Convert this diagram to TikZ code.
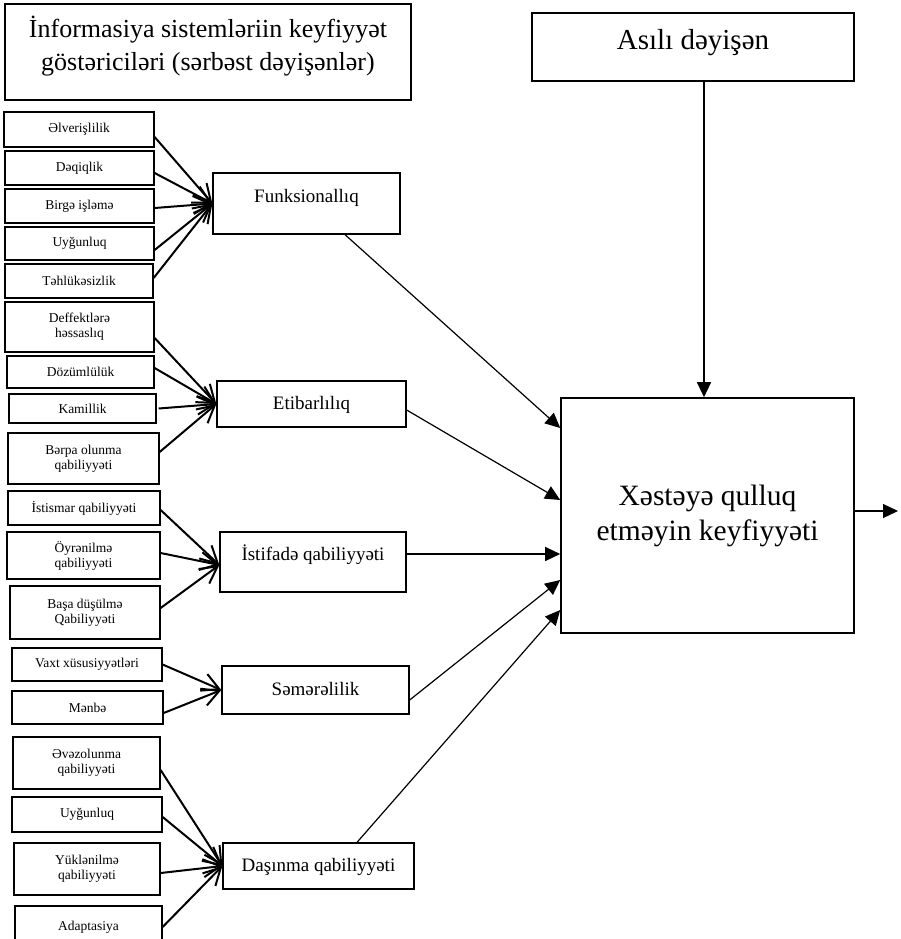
\documentclass[tikz,border=0pt]{standalone}
\usepackage{fontspec}
\setmainfont{Liberation Serif}
\usetikzlibrary{arrows.meta}
\begin{document}
\begin{tikzpicture}[x=1pt,y=-1pt,
  box/.style={draw, line width=1.3pt, inner sep=0pt, align=center},
  smallbox/.style={box, font=\fontsize{13.5}{15}\selectfont},
  midbox/.style={box, font=\fontsize{19}{22}\selectfont, text height=14pt, text depth=4pt},
  feed/.style={line width=2pt, -{Straight Barb[length=17pt,width=18pt,line width=2pt]}},
  mainarrow/.style={line width=1.2pt, -{Triangle[length=15pt,width=14pt]}}]
\useasboundingbox (0,0) rectangle (901,939);
% top boxes
\node[box, line width=1.6pt, minimum width=406, minimum height=96, text depth=17pt, font=\fontsize{26}{33}\selectfont] (T) at (208,52)
  {İnformasiya sistemləriin keyfiyyət\\göstəriciləri (sərbəst dəyişənlər)};
\node[box, line width=1.6pt, minimum width=322, minimum height=68, text depth=15pt, font=\fontsize{29}{33}\selectfont] (A) at (693,47)
  {Asılı dəyişən};
\node[box, line width=1.6pt, minimum width=293, minimum height=235, font=\fontsize{29.5}{35}\selectfont] (B) at (707.5,515.5)
  {Xəstəyə qulluq\\etməyin keyfiyyəti};
% middle boxes
\node[midbox, minimum width=187, minimum height=61, text depth=17pt] (F) at (306.5,203.5) {Funksionallıq};
\node[midbox, minimum width=189, minimum height=46] (E) at (311.5,404) {Etibarlılıq};
\node[midbox, minimum width=186, minimum height=60, text depth=18pt] (I) at (313,562) {İstifadə qabiliyyəti};
\node[midbox, minimum width=187, minimum height=48] (S) at (315.5,690) {Səmərəlilik};
\node[midbox, minimum width=191, minimum height=46] (D) at (318.5,866) {Daşınma qabiliyyəti};
% left boxes
\node[smallbox, minimum width=150, minimum height=35] (a1) at (79,129.5) {Əlverişlilik};
\node[smallbox, minimum width=149, minimum height=34] (a2) at (79.5,168) {Dəqiqlik};
\node[smallbox, minimum width=149, minimum height=34] (a3) at (79.5,206) {Birgə işləmə};
\node[smallbox, minimum width=149, minimum height=33] (a4) at (79.5,243.5) {Uyğunluq};
\node[smallbox, minimum width=148, minimum height=34] (a5) at (79,281) {Təhlükəsizlik};
\node[smallbox, minimum width=149, minimum height=50] (b1) at (79.5,327) {Deffektlərə\\həssaslıq};
\node[smallbox, minimum width=147, minimum height=32] (b2) at (80.5,372) {Dözümlülük};
\node[smallbox, minimum width=147, minimum height=29] (b3) at (82.5,408.5) {Kamillik};
\node[smallbox, minimum width=151, minimum height=51] (b4) at (83.5,458.5) {Bərpa olunma\\qabiliyyəti};
\node[smallbox, minimum width=152, minimum height=34] (c1) at (84,508) {İstismar qabiliyyəti};
\node[smallbox, minimum width=153, minimum height=47] (c2) at (83.5,555.5) {Öyrənilmə\\qabiliyyəti};
\node[smallbox, minimum width=150, minimum height=53] (c3) at (85,612.5) {Başa düşülmə\\Qabiliyyəti};
\node[smallbox, minimum width=150, minimum height=33] (d1) at (87,664.5) {Vaxt xüsusiyyətləri};
\node[smallbox, minimum width=151, minimum height=33] (d2) at (87.5,707.5) {Mənbə};
\node[smallbox, minimum width=147, minimum height=52] (e1) at (86.5,763) {Əvəzolunma\\qabiliyyəti};
\node[smallbox, minimum width=150, minimum height=35] (e2) at (87,814.5) {Uyğunluq};
\node[smallbox, minimum width=146, minimum height=52] (e3) at (87,869) {Yüklənilmə\\qabiliyyəti};
\node[smallbox, minimum width=147, minimum height=42] (e4) at (88.5,927) {Adaptasiya};
% feeders
\draw[feed] ([yshift=-7.5pt]a1.east) -- (F.west);
\draw[feed] ([yshift=-5pt]a2.east) -- (F.west);
\draw[feed] ([yshift=-2pt]a3.east) -- (F.west);
\draw[feed] ([yshift=-6.5pt]a4.east) -- (F.west);
\draw[feed] ([yshift=3pt]a5.east) -- (F.west);
\draw[feed] ([yshift=-11pt]b1.east) -- (E.west);
\draw[feed] ([yshift=4pt]b2.east) -- (E.west);
\draw[feed] ([xshift=2pt]b3.east) -- (E.west);
\draw[feed] ([yshift=6.5pt]b4.east) -- (E.west);
\draw[feed] ([yshift=-2pt]c1.east) -- ([yshift=-3pt]I.west);
\draw[feed] ([yshift=2.5pt]c2.east) -- ([yshift=-3pt]I.west);
\draw[feed] ([yshift=4.5pt]c3.east) -- ([yshift=-3pt]I.west);
\draw[feed] (d1.east) -- (S.west);
\draw[feed] ([yshift=-5.5pt]d2.east) -- (S.west);
\draw[feed] ([yshift=-7pt]e1.east) -- (D.west);
\draw[feed] ([yshift=-2.5pt]e2.east) -- (D.west);
\draw[feed] ([yshift=-4pt]e3.east) -- (D.west);
\draw[feed] (e4.east) -- (D.west);
% main arrows
\draw[mainarrow] ([xshift=38.5pt]F.south) -- ([yshift=87.5pt]B.west);
\draw[mainarrow] ([yshift=-6pt]E.east) -- ([yshift=15.5pt]B.west);
\draw[mainarrow] ([yshift=8pt]I.east) -- ([yshift=8pt]I.east -| B.west);
\draw[mainarrow] ([yshift=-10pt]S.east) -- ([yshift=-64.5pt]B.west);
\draw[mainarrow] ([xshift=38.5pt]D.north) -- ([yshift=-94.5pt]B.west);
\draw[mainarrow] ([xshift=11pt]A.south) -- ([xshift=11pt]A.south |- B.north);
\coordinate (out) at (898,511);
\draw[mainarrow] (B.east |- out) -- (out);
\end{tikzpicture}
\end{document}
